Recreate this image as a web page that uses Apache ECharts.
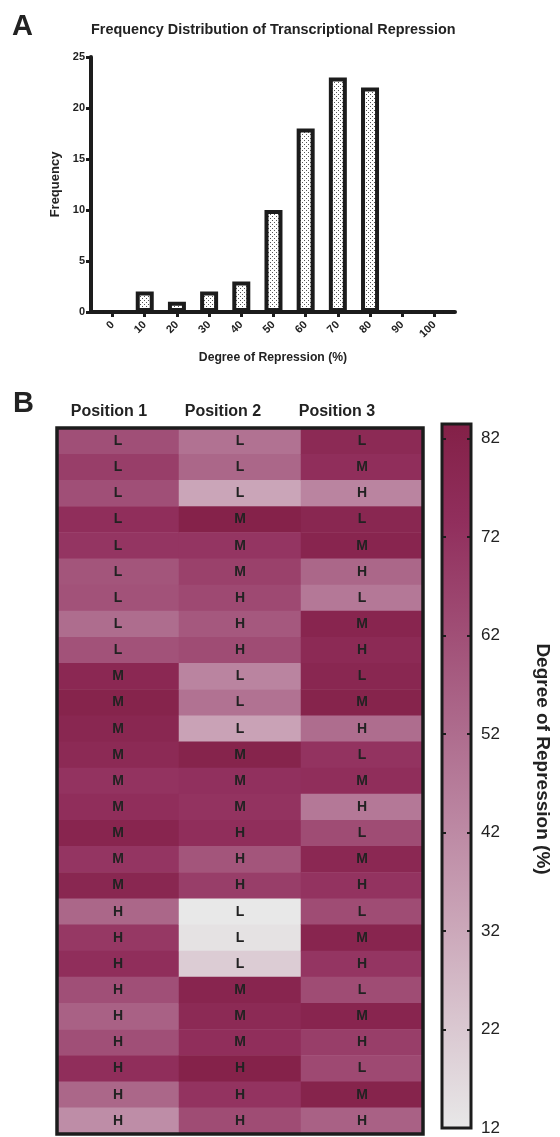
<!DOCTYPE html>
<html>
<head>
<meta charset="utf-8">
<script src="https://cdn.jsdelivr.net/npm/echarts@6/dist/echarts.min.js"></script>
<style>
html,body{margin:0;padding:0;background:#fff;}
#c{width:560px;height:1137px;}
</style>
</head>
<body>
<div id="c"></div>
<script>
// ---------- Data ----------
var binCenters = [0, 10, 20, 30, 40, 50, 60, 70, 80, 90, 100];
var binFreq    = [0, 2, 1, 2, 3, 10, 18, 23, 22, 0, 0];

var positions = ['Position 1', 'Position 2', 'Position 3'];

var pos1Letters = ['L','L','L','L','L','L','L','L','L','M','M','M','M','M','M','M','M','M','H','H','H','H','H','H','H','H','H'];
var pos2Letters = ['L','L','L','M','M','M','H','H','H','L','L','L','M','M','M','H','H','H','L','L','L','M','M','M','H','H','H'];
var pos3Letters = ['L','M','H','L','M','H','L','M','H','L','M','H','L','M','H','L','M','H','L','M','H','L','M','H','L','M','H'];

var pos1Values = [62,68,62,74,71,60,61,52,61,78,81,79,77,72,74,80,71,79,54,70,74,62,56,62,74,54,41];
var pos2Values = [50,54,33,82,71,67,64,59,63,44,50,34,81,73,72,74,60,68,12,14,21,80,77,74,82,72,63];
var pos3Values = [77,74,44,79,80,54,48,80,77,79,81,52,72,74,48,63,78,72,63,80,71,63,80,68,64,81,56];

var colorTicks = [12, 22, 32, 42, 52, 62, 72, 82];
var freqTicks  = [0, 5, 10, 15, 20, 25];

// ---------- Build ----------
var FONT = 'Liberation Sans, Arial, sans-serif';
var INK = '#1c1c1c';
var scaleColors = ['#e8e8e8','#dac8d1','#cba7b9','#bc88a3','#ad6a8c','#9f4c74','#912f5d','#832047'];

var letters = [pos1Letters, pos2Letters, pos3Letters];
var values = [pos1Values, pos2Values, pos3Values];
var rowCats = pos1Values.map(function (v, i) { return 'r' + (i + 1); });
var heatData = [];
for (var j = 0; j < 3; j++) {
  for (var i = 0; i < values[j].length; i++) {
    heatData.push([j, i, values[j][i]]);
  }
}
var barData = binCenters.map(function (c, i) { return [c, binFreq[i]]; });

function makeDots() {
  var c = document.createElement('canvas');
  c.width = 4; c.height = 4;
  var g = c.getContext('2d');
  g.fillStyle = '#ffffff'; g.fillRect(0, 0, 4, 4);
  g.fillStyle = '#555555';
  g.fillRect(0, 0, 1, 1); g.fillRect(2, 2, 1, 1);
  return c;
}

var gradStops = scaleColors.map(function (col, i) {
  return { offset: i / (scaleColors.length - 1), color: col };
});

var chart = echarts.init(document.getElementById('c'), null, { renderer: 'canvas' });

var option = {
  backgroundColor: '#ffffff',
  animation: false,
  textStyle: { fontFamily: FONT },
  title: [
    { text: 'Frequency Distribution of Transcriptional Repression', left: 91, top: 23, padding: 0,
      textStyle: { fontSize: 14.4, fontWeight: 'bold', color: '#222', fontFamily: FONT } },
    { text: 'A', left: 12, top: 12, padding: 0,
      textStyle: { fontSize: 29, fontWeight: 'bold', color: '#222', fontFamily: FONT } },
    { text: 'B', left: 13, top: 389, padding: 0,
      textStyle: { fontSize: 29, fontWeight: 'bold', color: '#222', fontFamily: FONT } }
  ],
  grid: [
    { left: 91, top: 57, width: 364, height: 255, containLabel: false },
    { left: 57, top: 428, width: 366, height: 706, show: true, z: 10,
      backgroundColor: 'transparent', borderColor: INK, borderWidth: 3.5 },
    { left: 52, top: 421, width: 342, height: 5 },
    { left: 442, top: 424, width: 29, height: 704, show: true, z: 1,
      backgroundColor: new echarts.graphic.LinearGradient(0, 1, 0, 0, gradStops),
      borderColor: INK, borderWidth: 3 }
  ],
  xAxis: [
    { gridIndex: 0, type: 'value', min: -6.7, max: 106.4,
      axisLine: { show: true, onZero: false, lineStyle: { color: INK, width: 4 } },
      axisTick: { show: true, customValues: binCenters, length: 5, lineStyle: { color: INK, width: 3 } },
      axisLabel: { customValues: binCenters, rotate: 45, margin: 11, fontSize: 11, fontWeight: 'bold', color: '#222', fontFamily: FONT },
      splitLine: { show: false },
      name: 'Degree of Repression (%)', nameLocation: 'middle', nameGap: 40,
      nameTextStyle: { fontSize: 12.2, fontWeight: 'bold', color: '#222', fontFamily: FONT } },
    { gridIndex: 1, type: 'category', data: positions, show: false },
    { gridIndex: 2, type: 'category', data: positions, position: 'top',
      axisLine: { show: false }, axisTick: { show: false },
      axisLabel: { interval: 0, margin: 1, fontSize: 16, fontWeight: 'bold', color: '#222', fontFamily: FONT } },
    { gridIndex: 3, type: 'category', data: ['c'], show: false }
  ],
  yAxis: [
    { gridIndex: 0, type: 'value', min: 0, max: 25, interval: 5,
      axisLine: { show: true, onZero: false, lineStyle: { color: INK, width: 4 } },
      axisTick: { show: true, length: 5, lineStyle: { color: INK, width: 3 } },
      axisLabel: { margin: 6, fontSize: 11, fontWeight: 'bold', color: '#222', fontFamily: FONT },
      splitLine: { show: false },
      name: 'Frequency', nameLocation: 'middle', nameGap: 28,
      nameTextStyle: { fontSize: 13, fontWeight: 'bold', color: '#222', fontFamily: FONT } },
    { gridIndex: 1, type: 'category', data: rowCats, inverse: true, show: false },
    { gridIndex: 2, type: 'value', show: false },
    { gridIndex: 3, type: 'value', min: 12, max: 83.5, position: 'left', z: 12,
      axisLine: { show: false },
      axisTick: { show: true, inside: true, customValues: colorTicks, length: 4, lineStyle: { color: INK, width: 2 } },
      axisLabel: { show: false }, splitLine: { show: false } },
    { gridIndex: 3, type: 'value', min: 12, max: 83.5, position: 'right', z: 12,
      axisLine: { show: false },
      axisTick: { show: true, inside: true, customValues: colorTicks, length: 4, lineStyle: { color: INK, width: 2 } },
      axisLabel: { customValues: colorTicks, margin: 10, fontSize: 17, color: '#222', fontFamily: FONT },
      splitLine: { show: false },
      name: 'Degree of Repression (%)', nameLocation: 'middle', nameRotate: -90, nameGap: 62,
      nameTextStyle: { fontSize: 19, fontWeight: 'bold', color: '#222', fontFamily: FONT, padding: [0, 34, 0, 0] } }
  ],
  visualMap: {
    type: 'continuous', show: false, seriesIndex: 1, dimension: 2,
    min: 12, max: 83.5, inRange: { color: scaleColors }
  },
  series: [
    { type: 'bar', xAxisIndex: 0, yAxisIndex: 0, data: barData, barWidth: 18,
      itemStyle: { color: { image: makeDots(), repeat: 'repeat' }, borderColor: INK, borderWidth: 4 },
      emphasis: { disabled: true } },
    { type: 'heatmap', xAxisIndex: 1, yAxisIndex: 1, data: heatData,
      itemStyle: { borderWidth: 0 },
      label: { show: true, fontSize: 14, fontWeight: 'bold', color: '#222', fontFamily: FONT,
        formatter: function (p) { return letters[p.data[0]][p.data[1]]; } },
      emphasis: { disabled: true } }
  ]
};
chart.setOption(option);
</script>
</body>
</html>
